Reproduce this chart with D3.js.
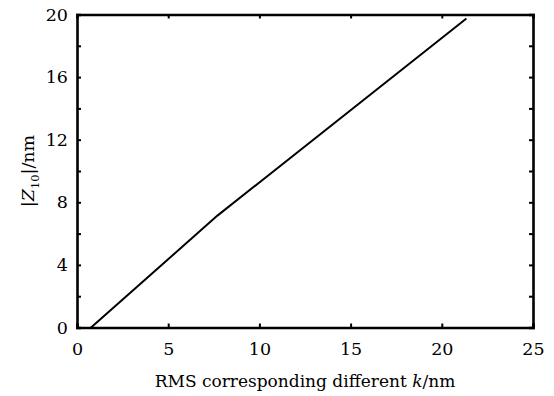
<!DOCTYPE html>
<html>
<head>
<meta charset="utf-8">
<script src="https://cdn.jsdelivr.net/npm/d3@7"></script>
<style>
  body { margin: 0; background: #fff; }
  svg text { font-family: "DejaVu Serif", "Liberation Serif", Times, serif; fill: #000; }
</style>
</head>
<body>
<div id="canvas"></div>
<script>
// chart size
var w = 554, h = 396;
var margin = {top: 14.5, right: 21, bottom: 68.5, left: 77};
var serif = '"DejaVu Serif", "Liberation Serif", Times, serif';

// data
var rmsK = [0.77, 7.7, 21.35];
var z10 = [0, 7.15, 19.75];
var xTicks = [0, 5, 10, 15, 20, 25];
var yTicks = [0, 4, 8, 12, 16, 20];
var yMinor = [0, 2, 4, 6, 8, 10, 12, 14, 16, 18, 20];

var svg = d3.select("#canvas")
    .append("svg")
    .attr("width", w)
    .attr("height", h);

var x = d3.scaleLinear()
    .domain([0, 25])
    .range([margin.left, w - margin.right]);

var y = d3.scaleLinear()
    .domain([0, 20])
    .range([h - margin.bottom, margin.top]);

// axes, ticks pointing inward
var gBottom = svg.append("g")
    .attr("transform", `translate(0,${y(0)})`)
    .call(d3.axisBottom(x).tickValues(xTicks).tickSize(-4).tickPadding(15).tickFormat(d3.format("d")));

var gTop = svg.append("g")
    .attr("transform", `translate(0,${y(20)})`)
    .call(d3.axisTop(x).tickValues(xTicks).tickSize(-4).tickFormat(""));

var gLeft = svg.append("g")
    .attr("transform", `translate(${x(0)},0)`)
    .call(d3.axisLeft(y).tickValues(yMinor).tickSize(-4).tickPadding(9)
        .tickFormat(d => yTicks.includes(d) ? d : ""));

var gRight = svg.append("g")
    .attr("transform", `translate(${x(25)},0)`)
    .call(d3.axisRight(y).tickValues(yMinor).tickSize(-4).tickFormat(""));

[gBottom, gTop, gLeft, gRight].forEach(g => {
    g.attr("font-family", serif);
    g.select(".domain").attr("stroke", "#000").attr("stroke-width", 2.6);
    g.selectAll(".tick line").attr("stroke", "#000").attr("stroke-width", 2);
    g.selectAll(".tick text")
        .attr("font-family", serif)
        .attr("font-size", 17.5)
        .attr("fill", "#000");
});

// the curve
var pts = rmsK.map((d, i) => [d, z10[i]]);
svg.append("path")
    .datum(pts)
    .attr("fill", "none")
    .attr("stroke", "#000")
    .attr("stroke-width", 2)
    .attr("d", d3.line().x(d => x(d[0])).y(d => y(d[1])));

// axis titles
var xt = svg.append("text")
    .attr("x", (x(0) + x(25)) / 2)
    .attr("y", 387)
    .attr("text-anchor", "middle")
    .attr("font-size", 17);
xt.append("tspan").text("RMS corresponding different ");
xt.append("tspan").attr("font-style", "italic").text("k");
xt.append("tspan").text("/nm");

var yt = svg.append("text")
    .attr("transform", `translate(34,${y(10)}) rotate(-90)`)
    .attr("text-anchor", "middle")
    .attr("font-size", 17.5);
yt.append("tspan").text("|");
yt.append("tspan").attr("font-style", "italic").text("Z");
yt.append("tspan").attr("dy", 5).attr("font-size", 11.5).text("10");
yt.append("tspan").attr("dy", -5).text("|/nm");
</script>
</body>
</html>
